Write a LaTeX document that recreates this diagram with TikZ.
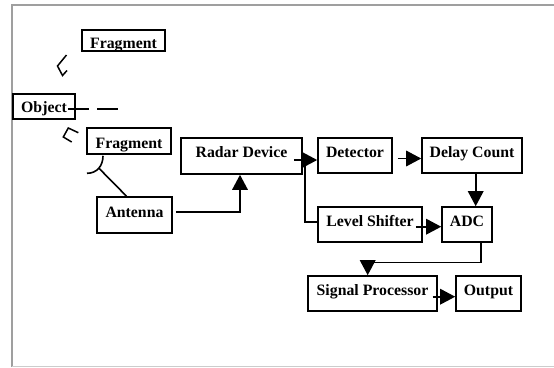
\documentclass[tikz,border=0pt]{standalone}
\usepackage{fontspec}
\setmainfont{Liberation Serif}
\usetikzlibrary{arrows.meta,calc}
\tikzset{
  blk/.style={draw, line width=1.6pt, inner sep=0pt, font=\bfseries\fontsize{15.8}{18}\selectfont,
              text height=11pt, text depth=7pt},
  con/.style={line width=1.6pt},
  arr/.style={con, -{Triangle[length=15pt,width=15.5pt]}},
  shp/.style={line width=1.5pt, line join=miter}
}
\begin{document}
\begin{tikzpicture}[x=1pt,y=-1pt]
\useasboundingbox (0,0) rectangle (554,367);
% frame
\draw[gray!75, line width=2.2pt] (12,5) -- (554,5);
\draw[gray!75, line width=2.2pt] (12,4) -- (12,367);
\draw[gray!40, line width=1pt] (12,366.3) -- (554,366.3);
% boxes
\node[blk, minimum width=83pt, minimum height=21pt, text height=15.6pt, text depth=0pt] (frag1) at (123.5,40.5) {Fragment};
\node[blk, minimum width=62pt, minimum height=25pt, text height=11pt, text depth=0pt] (obj) at (44,106.5) {Object};
\node[blk, minimum width=84pt, minimum height=26pt, text height=14pt, text depth=0pt] (frag2) at (129,141) {Fragment};
\node[blk, minimum width=75pt, minimum height=36pt] (antenna) at (134.5,215) {Antenna};
\node[blk, minimum width=121pt, minimum height=36pt, text depth=8pt] (radar) at (241.5,156) {Radar Device};
\node[blk, minimum width=74pt, minimum height=35pt, text depth=8pt] (detector) at (355,155.5) {Detector};
\node[blk, minimum width=100pt, minimum height=35pt, text depth=8pt] (delay) at (472,155.5) {Delay Count};
\node[blk, minimum width=104pt, minimum height=35pt] (level) at (370,224.5) {Level Shifter};
\node[blk, minimum width=50pt, minimum height=35pt] (adc) at (467,224.5) {ADC};
\node[blk, minimum width=129pt, minimum height=35pt] (sp) at (372.5,293.5) {Signal Processor};
\node[blk, minimum width=65pt, minimum height=35pt] (out) at (488.5,293.5) {Output};
% object beam
\draw[con, dash pattern=on 21pt off 8.5pt on 20.5pt off 200pt] ($(obj.east)+(-8,2.5)$) -- ++(50.5,0);
% wedges
\draw[shp] (66.5,55) -- (57.5,66) -- (62.5,75.5) -- (67,70.5);
\draw[shp] (78.3,132.7) -- (68.3,128) -- (63.3,137) -- (71.7,142);
% antenna
\coordinate (aj) at (98.7,168);
\draw[con] ($(antenna.north)+(-8,0)$) -- (aj);
\draw[con] ($(frag2.south)+(-26,1)$) .. controls ++(0,10) and ++(10,0) .. ($(frag2.south)+(-42,18.5)$);
% connectors
\draw[arr] ($(antenna.east)+(3,-3)$) -| ($(radar.south)+(-1.5,0)$);
\draw[arr] ($(radar.east)+(-9,4)$) -- ($(detector.west)+(0,4.5)$);
\draw[con] ($(radar.east)+(2,4)$) |- ($(level.west)+(0,-2.5)$);
\draw[arr] ($(detector.east)+(5,3)$) -- ($(delay.west)+(0,3)$);
\draw[arr] ($(delay.south)+(3.7,0)$) coordinate (d1) -- (d1 |- adc.north);
\draw[arr] ($(level.east)+(-7,2.2)$) -- ($(adc.west)+(0,2.2)$);
\draw[arr] ($(adc.south)+(14,0)$) -- ++(0,19.7) -| ($(sp.north)+(-4.8,0)$);
\draw[arr] ($(sp.east)+(-5.3,3.2)$) -- ($(out.west)+(0,3.2)$);
\end{tikzpicture}
\end{document}
